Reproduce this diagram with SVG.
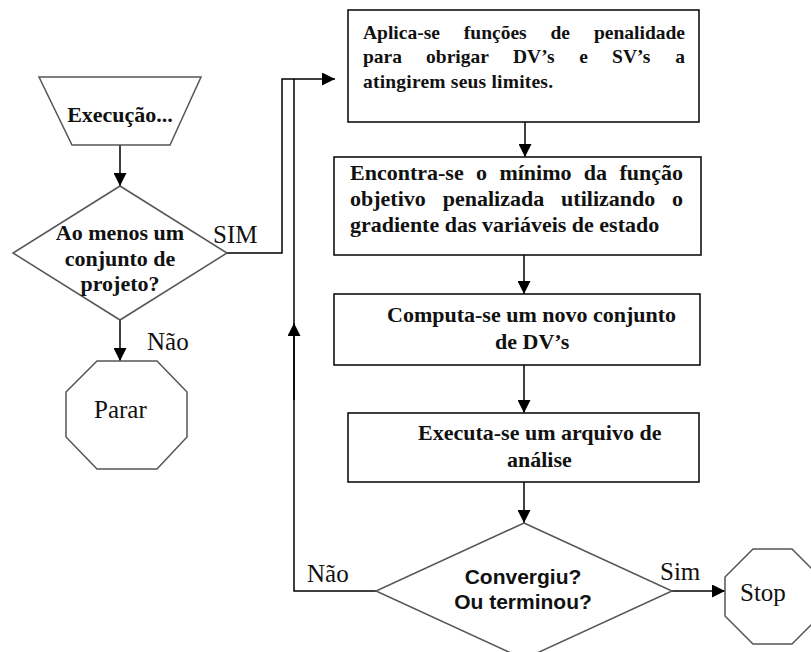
<svg xmlns="http://www.w3.org/2000/svg" width="811" height="652" viewBox="0 0 811 652">
<style>
.shape{fill:#fff;stroke:#555;stroke-width:1.5}
.box{fill:#fff;stroke:#111;stroke-width:1.6}
.line{fill:none;stroke:#000;stroke-width:1.5}
.tb{font-family:"Liberation Serif","Times New Roman",serif;font-weight:bold;font-size:22px;fill:#111}
.t1{font-family:"Liberation Serif","Times New Roman",serif;font-weight:bold;font-size:19.5px;fill:#111}
.tr{font-family:"Liberation Serif","Times New Roman",serif;font-size:25px;fill:#111}
.ts{font-family:"Liberation Sans",Arial,sans-serif;font-weight:bold;font-size:21px;fill:#111}
</style>
<defs>
<marker id="ah" viewBox="0 0 13 13" refX="13" refY="6.5" markerWidth="13" markerHeight="13" markerUnits="userSpaceOnUse" orient="auto">
<path d="M0,0 L13,6.5 L0,13 Z" fill="#000"/>
</marker>
</defs>
<rect width="811" height="652" fill="#fff"/>

<g id="connectors">
<line class="line" x1="120" y1="145" x2="120" y2="186" marker-end="url(#ah)"/>
<line class="line" x1="120" y1="320" x2="120" y2="361" marker-end="url(#ah)"/>
<polyline class="line" points="227,253 282,253 282,79 335,79" marker-end="url(#ah)"/>
<polyline class="line" points="376,591 294,591 294,79"/>
<line class="line" x1="294" y1="400" x2="294" y2="323" marker-end="url(#ah)"/>
<line class="line" x1="525" y1="122" x2="525" y2="157" marker-end="url(#ah)"/>
<line class="line" x1="524" y1="255" x2="524" y2="294" marker-end="url(#ah)"/>
<line class="line" x1="524" y1="365" x2="524" y2="413" marker-end="url(#ah)"/>
<line class="line" x1="524" y1="482" x2="524" y2="523" marker-end="url(#ah)"/>
<line class="line" x1="672" y1="591" x2="725" y2="591" marker-end="url(#ah)"/>
<text class="tr" x="213" y="243">SIM</text>
<text class="tr" x="147" y="350">Não</text>
<text class="tr" x="307" y="582">Não</text>
<text class="tr" x="660" y="580">Sim</text>
</g>

<g id="start">
<polygon class="shape" points="39,77 201,77 170,145 72,145"/>
<text class="tb" x="120" y="122" text-anchor="middle">Execução...</text>
</g>

<g id="decision1">
<polygon class="shape" points="120,186 227,253 120,320 13,253"/>
<text class="tb" x="120" y="240" text-anchor="middle">Ao menos um</text>
<text class="tb" x="120" y="266" text-anchor="middle">conjunto de</text>
<text class="tb" x="120" y="291" text-anchor="middle">projeto?</text>
</g>

<g id="parar">
<polygon class="shape" points="97,361 157,361 187,392 187,437 157,469 97,469 66,437 66,392"/>
<text class="tr" x="94" y="418">Parar</text>
</g>

<g id="box1">
<rect class="box" x="348" y="10" width="351" height="112"/>
<text class="t1" y="39"><tspan x="363">Aplica-se</tspan><tspan x="463.8">funções</tspan><tspan x="550.5">de</tspan><tspan x="685" text-anchor="end">penalidade</tspan></text>
<text class="t1" y="63"><tspan x="363">para</tspan><tspan x="426.1">obrigar</tspan><tspan x="513">DV’s</tspan><tspan x="579.3">e</tspan><tspan x="612.1">SV’s</tspan><tspan x="685" text-anchor="end">a</tspan></text>
<text class="t1" x="363" y="88" textLength="190" lengthAdjust="spacing">atingirem seus limites.</text>
</g>

<g id="box2">
<rect class="box" x="334" y="157" width="367" height="98"/>
<text class="tb" y="180"><tspan x="350">Encontra-se</tspan><tspan x="476">o</tspan><tspan x="499.4">mínimo</tspan><tspan x="583.8">da</tspan><tspan x="683" text-anchor="end">função</tspan></text>
<text class="tb" y="206"><tspan x="350">objetivo</tspan><tspan x="442.7">penalizada</tspan><tspan x="561.1">utilizando</tspan><tspan x="683" text-anchor="end">o</tspan></text>
<text class="tb" x="350" y="232">gradiente das variáveis de estado</text>
</g>

<g id="box3">
<rect class="box" x="334" y="294" width="366" height="71"/>
<text class="tb" x="387" y="322">Computa-se um novo conjunto</text>
<text class="tb" x="495" y="349">de DV’s</text>
</g>

<g id="box4">
<rect class="box" x="348" y="413" width="351" height="69"/>
<text class="tb" x="418" y="440">Executa-se um arquivo de</text>
<text class="tb" x="507" y="467">análise</text>
</g>

<g id="decision2">
<polygon class="shape" points="524,523 672,591 524,659 376,591"/>
<text class="ts" x="523" y="584" text-anchor="middle">Convergiu?</text>
<text class="ts" x="523" y="609" text-anchor="middle">Ou terminou?</text>
</g>

<g id="stop">
<polygon class="shape" points="753,549 792,549 820,577 820,616 792,644 753,644 725,616 725,577"/>
<text class="tr" x="740" y="601">Stop</text>
</g>
</svg>
